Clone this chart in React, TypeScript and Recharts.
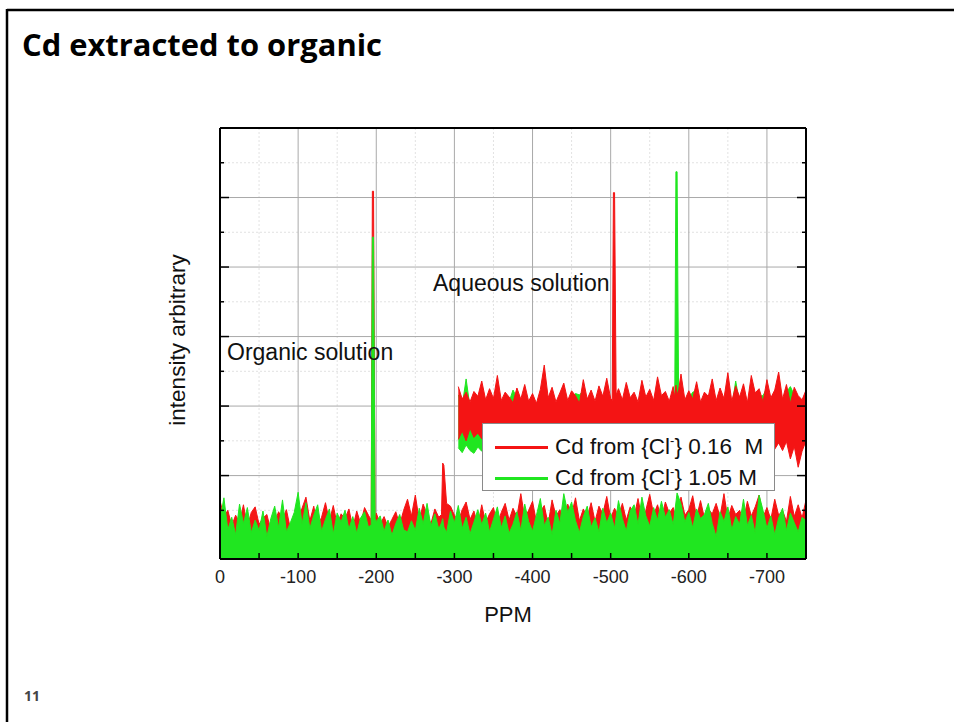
import { Area, CartesianGrid, ComposedChart, Legend, XAxis, YAxis } from 'recharts';

// chemical shift (ppm) of the organic-phase spectra
const organicPpm = [
  0, -5, -10, -15, -20, -25, -30, -35, -40, -45,
  -50, -55, -60, -65, -70, -75, -80, -85, -90, -95,
  -100, -105, -110, -115, -120, -125, -130, -135, -140, -145,
  -150, -155, -160, -165, -170, -175, -180, -185, -190, -193.5,
  -195, -196.5, -198.5, -200, -205, -210, -215, -220, -225, -230,
  -235, -240, -245, -250, -255, -260, -265, -270, -275, -280,
  -283.5, -285, -286.5, -290, -295, -300, -305, -310, -315, -320,
  -325, -330, -335, -340, -345, -350, -355, -360, -365, -370,
  -375, -380, -385, -390, -395, -400, -405, -410, -415, -420,
  -425, -430, -435, -440, -445, -450, -455, -460, -465, -470,
  -475, -480, -485, -490, -495, -500, -505, -510, -515, -520,
  -525, -530, -535, -540, -545, -550, -555, -560, -565, -570,
  -575, -580, -585, -590, -595, -600, -605, -610, -615, -620,
  -625, -630, -635, -640, -645, -650, -655, -660, -665, -670,
  -675, -680, -685, -690, -695, -700, -705, -710, -715, -720,
  -725, -730, -735, -740, -745, -750,
];

const organicRed = [
  8.4, 6.1, 7.0, 4.8, 6.3, 5.2, 7.8, 4.6, 6.7, 7.5,
  5.0, 5.9, 6.4, 4.1, 5.3, 6.8, 5.7, 7.1, 4.4, 5.6,
  6.2, 7.3, 8.9, 5.5, 7.6, 4.7, 6.0, 8.1, 5.4, 7.7,
  4.9, 6.5, 5.8, 7.2, 4.5, 6.9, 5.1, 7.4, 6.3, 5.6,
  52.9, 52.9, 6.0, 6.6, 5.0, 6.1, 4.6, 5.7, 6.8, 4.9,
  7.0, 8.6, 6.2, 9.2, 5.5, 7.9, 6.4, 5.1, 7.2, 6.0,
  6.4, 13.8, 13.5, 8.0, 7.6, 6.3, 5.4, 7.1, 8.2, 5.7,
  6.9, 4.8, 7.8, 5.2, 6.5, 7.4, 5.0, 6.7, 8.0, 5.6,
  7.3, 6.1, 9.4, 5.9, 7.0, 8.3, 5.3, 6.8, 7.7, 5.0,
  8.5, 6.2, 7.1, 5.8, 7.9, 6.4, 8.8, 5.5, 7.2, 6.0,
  8.1, 5.4, 7.6, 6.5, 9.0, 5.9, 7.3, 6.2, 8.0, 5.6,
  7.5, 6.1, 8.7, 5.8, 7.0, 9.3, 6.4, 7.8, 5.7, 8.2,
  6.6, 7.4, 5.5, 8.9, 6.3, 7.1, 9.1, 6.0, 8.4, 5.9,
  7.2, 6.5, 8.0, 6.1, 9.4, 5.8, 7.7, 6.4, 7.0, 5.6,
  8.3, 6.2, 7.5, 9.2, 6.0, 7.4, 5.7, 8.6, 6.3, 7.0,
  5.4, 9.0, 6.1, 7.8, 5.9, 8.5,
];

const organicGreen = [
  5.5, 8.8, 4.2, 6.0, 3.5, 7.9, 5.1, 7.4, 3.8, 5.6,
  4.1, 6.9, 3.2, 5.8, 7.6, 4.5, 8.5, 3.9, 5.2, 6.7,
  9.6, 5.0, 8.1, 4.4, 6.3, 7.8, 4.0, 5.7, 7.2, 3.6,
  6.6, 5.3, 7.0, 4.3, 6.1, 3.7, 5.9, 6.8, 4.6, 4.9,
  46.3, 46.3, 5.8, 5.4, 6.2, 4.0, 5.6, 3.4, 5.1, 6.4,
  4.2, 3.9, 5.5, 4.1, 7.3, 5.0, 8.0, 4.7, 6.5, 4.3,
  5.2, 5.8, 4.6, 3.8, 6.9, 5.2, 7.7, 4.4, 6.0, 3.6,
  5.3, 7.1, 4.9, 6.6, 3.9, 5.7, 7.5, 4.5, 6.2, 3.7,
  5.0, 6.8, 4.1, 7.9, 5.4, 4.0, 6.3, 8.7, 4.8, 6.0,
  3.5, 7.0, 5.1, 9.4, 6.7, 8.2, 5.5, 3.8, 6.1, 7.6,
  4.6, 5.9, 3.9, 7.3, 5.2, 6.6, 4.4, 8.4, 5.8, 4.0,
  6.9, 7.8, 5.0, 8.9, 6.2, 4.7, 7.4, 5.6, 8.3, 6.0,
  7.1, 4.9, 9.5, 7.9, 5.3, 6.7, 4.5, 7.2, 5.8, 6.4,
  8.0, 5.1, 3.2, 6.8, 5.4, 7.5, 4.2, 6.1, 5.0, 8.6,
  4.8, 6.3, 3.7, 9.2, 7.0, 4.4, 6.2, 3.5, 5.9, 7.3,
  4.1, 6.6, 5.2, 3.9, 6.0, 5.5,
];

// aqueous-phase spectra, drawn offset above the organic ones
const aqueousPpm = [
  -305, -310, -315, -320, -325, -330, -335, -340, -345, -350,
  -355, -360, -365, -370, -375, -380, -385, -390, -395, -400,
  -405, -410, -415, -420, -425, -430, -435, -440, -445, -450,
  -455, -460, -465, -470, -475, -480, -485, -490, -495, -500,
  -502, -503.5, -505, -507, -510, -515, -520, -525, -530, -535,
  -540, -545, -550, -555, -560, -565, -570, -575, -580, -582,
  -583.5, -585, -587, -590, -595, -600, -605, -610, -615, -620,
  -625, -630, -635, -640, -645, -650, -655, -660, -665, -670,
  -675, -680, -685, -690, -695, -700, -705, -710, -715, -720,
  -725, -730, -735, -740, -745, -750,
];

const aqueousRedHigh = [
  24.8, 23.0, 24.0, 22.6, 24.1, 23.4, 25.6, 22.9, 24.5, 23.1,
  26.4, 22.8, 24.0, 23.3, 22.5, 24.6, 23.0, 25.1, 22.7, 23.8,
  22.4, 24.4, 27.9, 23.2, 24.7, 22.6, 23.9, 25.3, 22.8, 24.2,
  23.5, 22.4, 25.8, 23.0, 24.3, 22.7, 24.9, 23.4, 26.0, 23.1,
  22.8, 52.7, 52.7, 23.6, 24.5, 22.9, 25.4, 23.2, 24.0, 22.6,
  25.7, 23.3, 24.4, 22.8, 26.2, 23.5, 24.1, 22.7, 24.8, 23.2,
  25.0, 23.6, 24.3, 26.6, 22.9, 24.2, 23.0, 25.5, 22.6, 24.0,
  23.4, 25.9, 22.8, 24.6, 23.1, 26.8, 22.7, 24.9, 23.3, 25.2,
  22.5, 26.4, 23.9, 24.5, 22.6, 25.8, 23.2, 24.3, 26.9, 23.0,
  25.1, 22.4, 24.7, 23.5, 22.9, 24.3,
];

const aqueousRedLow = [
  17.2, 18.4, 17.0, 18.8, 17.5, 18.1, 17.3, 18.9, 17.8, 18.5,
  17.4, 18.2, 17.9, 18.6, 17.6, 18.3, 17.7, 18.8, 17.4, 18.1,
  17.9, 18.5, 17.3, 18.7, 17.8, 18.2, 17.5, 18.6, 17.9, 18.3,
  17.6, 18.8, 17.7, 18.4, 17.5, 18.1, 17.8, 18.6, 17.4, 18.3,
  18.0, 17.9, 18.2, 17.6, 18.5, 17.7, 18.3, 17.5, 18.8, 17.6,
  18.2, 17.9, 18.4, 17.3, 18.7, 17.8, 18.1, 17.5, 18.6, 17.9,
  18.2, 17.7, 18.3, 17.6, 18.5, 17.4, 18.2, 17.8, 18.6, 17.5,
  18.1, 17.7, 18.4, 17.3, 18.0, 17.6, 18.3, 17.2, 17.9, 16.8,
  17.7, 16.5, 17.4, 16.9, 17.6, 16.2, 17.1, 15.8, 16.7, 15.6,
  16.9, 14.4, 16.2, 13.2, 15.5, 17.0,
];

const aqueousGreenHigh = [
  23.6, 22.1, 25.9, 21.8, 23.0, 22.5, 24.2, 22.0, 23.4, 22.3,
  24.8, 21.9, 23.1, 22.6, 24.3, 23.2, 22.1, 23.9, 21.8, 22.7,
  21.6, 23.3, 25.0, 22.4, 23.5, 21.9, 22.8, 23.9, 21.9, 23.1,
  23.8, 23.6, 24.2, 22.1, 23.0, 21.8, 23.6, 22.5, 24.5, 22.2,
  22.0, 22.6, 22.3, 22.7, 23.4, 22.0, 24.1, 22.3, 23.0, 21.7,
  24.4, 22.4, 23.3, 21.9, 24.9, 22.6, 23.0, 21.8, 23.7, 22.5,
  55.7, 55.7, 22.9, 25.2, 22.1, 23.1, 24.0, 24.2, 21.8, 23.0,
  22.5, 24.6, 21.9, 23.5, 22.2, 25.5, 21.8, 25.6, 22.4, 24.0,
  21.7, 25.1, 22.9, 23.4, 23.5, 24.6, 22.3, 23.2, 25.6, 22.1,
  24.0, 24.8, 23.6, 22.6, 22.0, 23.2,
];

const aqueousGreenLow = [
  16.0, 15.3, 16.4, 15.6, 15.2, 16.1, 15.5, 17.6, 18.3, 18.9,
  17.9, 18.7, 18.4, 19.0, 18.1, 18.8, 18.2, 19.2, 17.9, 18.6,
  18.4, 19.0, 17.8, 19.1, 18.3, 18.7, 18.0, 19.1, 18.4, 18.8,
  18.1, 19.2, 18.2, 18.9, 18.0, 18.6, 18.3, 19.1, 17.9, 18.8,
  18.5, 18.4, 18.7, 18.1, 19.0, 18.2, 18.8, 18.0, 19.2, 18.1,
  18.7, 18.4, 18.9, 17.8, 19.1, 18.3, 18.6, 18.0, 19.1, 18.4,
  18.7, 18.2, 18.8, 18.1, 19.0, 17.9, 18.7, 18.3, 19.1, 18.0,
  18.6, 18.2, 18.9, 17.8, 18.5, 18.1, 18.8, 17.7, 18.4, 17.6,
  18.2, 17.3, 17.9, 17.5, 18.1, 17.0, 17.6, 16.6, 17.2, 16.4,
  17.5, 15.9, 16.8, 15.0, 19.0, 18.4,
];

const seriesNames = ['Cd from {Cl⁻} 0.16  M', 'Cd from {Cl⁻} 1.05 M'];

const xMajorTicks = [0, -100, -200, -300, -400, -500, -600, -700];
const xAllTicks = [0, -50, -100, -150, -200, -250, -300, -350, -400, -450, -500, -550, -600, -650, -700, -750];
const xMinorGrid = [-50, -150, -250, -350, -450, -550, -650];
const xMajorGrid = [-100, -200, -300, -400, -500, -600, -700];
const yMajorTicks = [12, 22, 32, 42, 52, 62];
const yAllTicks = [7, 12, 17, 22, 27, 32, 37, 42, 47, 52, 57, 62];
const yMinorGrid = [7, 17, 27, 37, 47, 57];
const yMajorGrid = [12, 22, 32, 42, 52];

const RED = '#f41414';
const GREEN = '#20e620';
const FONT = '"Liberation Sans", Arial, sans-serif';

const organicData = organicPpm.map((ppm, i) => ({ ppm, red: organicRed[i], green: organicGreen[i] }));
const aqueousData = aqueousPpm.map((ppm, i) => ({
  ppm,
  red: [aqueousRedLow[i], aqueousRedHigh[i]],
  green: [aqueousGreenLow[i], aqueousGreenHigh[i]],
}));

const BottomTick = ({ x, y, payload }: any) => (
  <g>
    <line x1={x} x2={x} y1={y} y2={y - 6} stroke="#000" strokeWidth={1.5} />
    {xMajorTicks.includes(payload.value) && (
      <text x={x} y={y + 24} textAnchor="middle" fontSize={18} fontFamily={FONT} fill="#222">
        {payload.value}
      </text>
    )}
  </g>
);

const TopTick = ({ x, y }: any) => (
  <line x1={x} x2={x} y1={y} y2={y + 6} stroke="#000" strokeWidth={1.5} />
);

const LeftTick = ({ x, y, payload }: any) => {
  const len = yMajorTicks.includes(payload.value) ? 9 : 4;
  return <line x1={x} x2={x + len} y1={y} y2={y} stroke="#000" strokeWidth={1.5} />;
};

const RightTick = ({ x, y, payload }: any) => {
  const len = yMajorTicks.includes(payload.value) ? 9 : 4;
  return <line x1={x} x2={x - len} y1={y} y2={y} stroke="#000" strokeWidth={1.5} />;
};

const LegendBox = ({ payload }: any) => (
  <div
    style={{
      width: 293,
      height: 68,
      boxSizing: 'border-box',
      border: '1px solid #8a8a8a',
      background: '#fff',
      paddingTop: 8,
      fontFamily: FONT,
      fontSize: 22.5,
      color: '#111',
    }}
  >
    {(payload || [])
      .filter((entry: any) => seriesNames.includes(entry.value))
      .map((entry: any) => {
        const [pre, post] = String(entry.value).split('⁻');
        return (
          <div key={entry.value} style={{ display: 'flex', alignItems: 'center', height: 31 }}>
            <span style={{ display: 'inline-block', width: 53, height: 3, background: entry.color, marginLeft: 12, marginRight: 7 }} />
            <span style={{ whiteSpace: 'pre', lineHeight: '31px' }}>
              {pre}
              <span style={{ fontSize: 13, position: 'relative', top: -9 }}>-</span>
              {post}
            </span>
          </div>
        );
      })}
  </div>
);

const App = () => {
  return (
    <div style={{ position: 'absolute', left: 0, top: 0, width: 954, height: 722, background: '#fff', overflow: 'hidden' }}>
      <ComposedChart width={954} height={722} margin={{ top: 118, right: 138, bottom: 133, left: 210 }}>
        <CartesianGrid xAxisId="b" yAxisId="l" verticalValues={xMinorGrid} horizontalValues={yMinorGrid} stroke="#e2e2e2" strokeDasharray="2 2" />
        <CartesianGrid xAxisId="b" yAxisId="l" verticalValues={xMajorGrid} horizontalValues={yMajorGrid} stroke="#a9a9a9" />
        <XAxis
          xAxisId="b"
          dataKey="ppm"
          type="number"
          domain={[-750, 0]}
          reversed
          allowDataOverflow
          ticks={xAllTicks}
          interval={0}
          tickSize={0}
          tickMargin={0}
          tickLine={false}
          tick={BottomTick}
          axisLine={{ stroke: '#000', strokeWidth: 2 }}
          height={30}
        />
        <XAxis
          xAxisId="t"
          orientation="top"
          type="number"
          domain={[-750, 0]}
          reversed
          allowDataOverflow
          ticks={xAllTicks}
          interval={0}
          tickSize={0}
          tickMargin={0}
          tickLine={false}
          tick={TopTick}
          axisLine={{ stroke: '#000', strokeWidth: 2 }}
          height={10}
        />
        <YAxis
          yAxisId="l"
          type="number"
          domain={[0, 62]}
          allowDataOverflow
          ticks={yAllTicks}
          interval={0}
          tickSize={0}
          tickMargin={0}
          tickLine={false}
          tick={LeftTick}
          axisLine={{ stroke: '#000', strokeWidth: 2 }}
          width={10}
        />
        <YAxis
          yAxisId="r"
          orientation="right"
          type="number"
          domain={[0, 62]}
          allowDataOverflow
          ticks={yAllTicks}
          interval={0}
          tickSize={0}
          tickMargin={0}
          tickLine={false}
          tick={RightTick}
          axisLine={{ stroke: '#000', strokeWidth: 2 }}
          width={10}
        />
        <Area
          data={organicData}
          dataKey="red"
          name={seriesNames[0]}
          xAxisId="b"
          yAxisId="l"
          type="linear"
          stroke={RED}
          strokeWidth={1}
          fill={RED}
          fillOpacity={1}
          dot={false}
          activeDot={false}
          isAnimationActive={false}
        />
        <Area
          data={organicData}
          dataKey="green"
          name={seriesNames[1]}
          xAxisId="b"
          yAxisId="l"
          type="linear"
          stroke={GREEN}
          strokeWidth={1}
          fill={GREEN}
          fillOpacity={1}
          dot={false}
          activeDot={false}
          isAnimationActive={false}
        />
        <Area
          data={aqueousData}
          dataKey="green"
          name="aqueous 1.05 M"
          legendType="none"
          xAxisId="b"
          yAxisId="l"
          type="linear"
          stroke={GREEN}
          strokeWidth={1}
          fill={GREEN}
          fillOpacity={1}
          dot={false}
          activeDot={false}
          isAnimationActive={false}
        />
        <Area
          data={aqueousData}
          dataKey="red"
          name="aqueous 0.16 M"
          legendType="none"
          xAxisId="b"
          yAxisId="l"
          type="linear"
          stroke={RED}
          strokeWidth={1}
          fill={RED}
          fillOpacity={1}
          dot={false}
          activeDot={false}
          isAnimationActive={false}
        />
        <Legend
          layout="vertical"
          align="center"
          verticalAlign="middle"
          content={LegendBox}
          wrapperStyle={{ left: 482, top: 423, width: 293, height: 68 }}
        />
      </ComposedChart>
      <svg width={954} height={722} style={{ position: 'absolute', left: 0, top: 0, pointerEvents: 'none' }}>
        <line x1={7} x2={954} y1={10} y2={10} stroke="#000" strokeWidth={2.5} />
        <line x1={7} x2={7} y1={9} y2={722} stroke="#000" strokeWidth={2.5} />
        <text x={22} y={56} fontFamily='"Open Sans", sans-serif' fontWeight={700} fontSize={31} textLength={360} lengthAdjust="spacingAndGlyphs" fill="#000">
          Cd extracted to organic
        </text>
        <text x={24} y={701} fontFamily='"Open Sans", sans-serif' fontWeight={700} fontSize={14} fill="#444">
          11
        </text>
        <text x={433} y={291} fontFamily={FONT} fontSize={23} fill="#111">
          Aqueous solution
        </text>
        <text x={227} y={360} fontFamily={FONT} fontSize={23} fill="#111">
          Organic solution
        </text>
        <text x={508} y={622} textAnchor="middle" fontFamily={FONT} fontSize={22} fill="#111">
          PPM
        </text>
        <text
          x={177}
          y={340}
          transform="rotate(-90 177 340)"
          textAnchor="middle"
          dominantBaseline="central"
          fontFamily={FONT}
          fontSize={22.5}
          fill="#111"
        >
          intensity arbitrary
        </text>
      </svg>
    </div>
  );
};

export default App;
